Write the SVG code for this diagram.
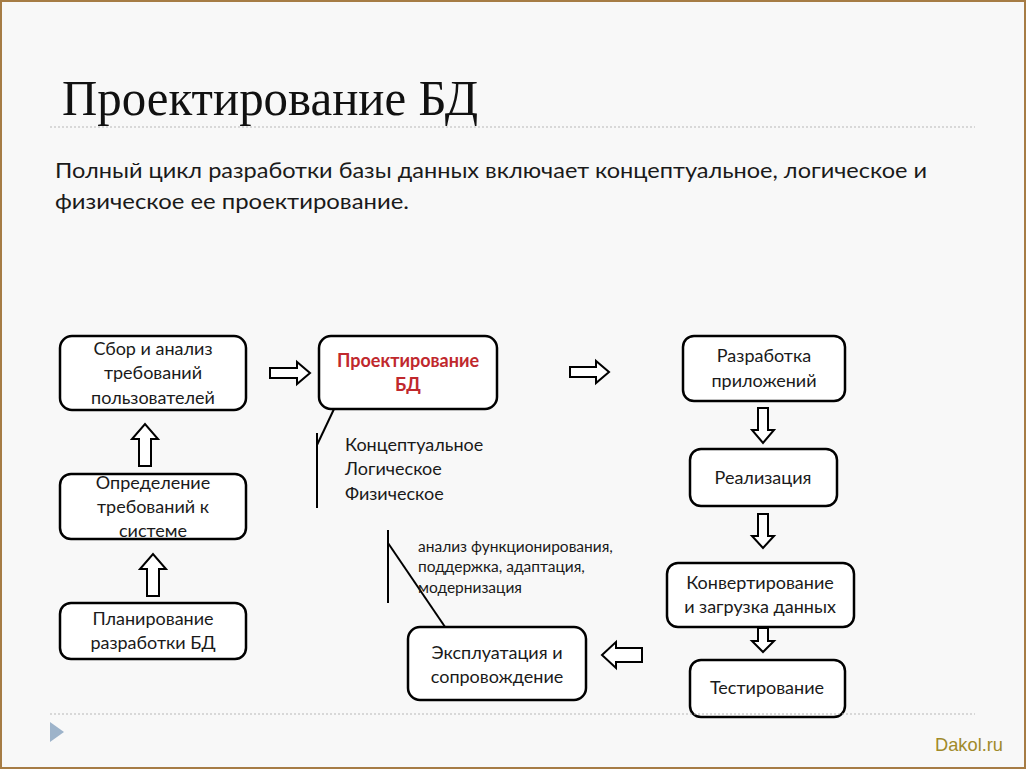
<svg xmlns="http://www.w3.org/2000/svg" width="1026" height="769" viewBox="0 0 1026 769">
<defs>
<style>
.node rect{fill:#ffffff;stroke:#000;stroke-width:2.5}
.t{font-family:Lato,"Open Sans","Noto Sans",sans-serif;font-size:18px;fill:#1a1a1a;text-anchor:middle}
.red{fill:#c0282d;font-weight:bold}
.lbl{font-family:Lato,"Open Sans","Noto Sans",sans-serif;fill:#1a1a1a}
.arr{fill:#fff;stroke:#000;stroke-width:2;stroke-linejoin:miter}
.ln{stroke:#000;stroke-width:2;fill:none}
.dot{stroke:#b8b8b8;stroke-width:1.2;stroke-dasharray:2 2}
</style>
</defs>
<rect x="0" y="0" width="1026" height="769" fill="#f8f8f8"/>
<rect x="1" y="1" width="1024" height="767" fill="none" stroke="#a67c45" stroke-width="2"/>
<text x="62" y="115" font-family="'Liberation Serif',serif" font-size="50" fill="#111" textLength="416" lengthAdjust="spacingAndGlyphs">Проектирование БД</text>
<line class="dot" x1="50" y1="127" x2="975" y2="127"/>
<text class="lbl" x="55" y="178" font-size="21" textLength="872" lengthAdjust="spacingAndGlyphs">Полный цикл разработки базы данных включает концептуальное, логическое и</text>
<text class="lbl" x="55" y="209" font-size="21" textLength="354" lengthAdjust="spacingAndGlyphs">физическое ее проектирование.</text>

<g id="connectors">
<path class="arr" d="M270,368 H297 V362 L310,373 L297,384 V378 H270 Z"/>
<path class="arr" d="M570,367 H596 V361 L609,372 L596,383 V377 H570 Z"/>
<path class="arr" d="M139,466 V439 H132 L145,424 L158,439 H151 V466 Z"/>
<path class="arr" d="M147,596 V569 H140 L153,554 L166,569 H159 V596 Z"/>
<path class="arr" d="M758,408 V430 H752 L763,443 L774,430 H768 V408 Z"/>
<path class="arr" d="M758,514 V536 H752 L763,548 L774,536 H768 V514 Z"/>
<path class="arr" d="M758,628 V641 H752 L763,652 L774,641 H768 V628 Z"/>
<path class="arr" d="M642,648 H616 V642 L602,655 L616,668 V662 H642 Z"/>
<path class="ln" d="M343,390 L317,445"/>
<path class="ln" d="M317,433 V508"/>
<path class="ln" d="M388,530 V603"/>
<path class="ln" d="M388,543 L458,646"/>
</g>

<g id="n1" class="node"><rect x="60" y="336" width="186" height="74" rx="12"/>
<text class="t" x="153" y="355">Сбор и анализ</text><text class="t" x="153" y="379">требований</text><text class="t" x="153" y="404">пользователей</text></g>
<g id="n2" class="node"><rect x="319" y="336" width="178" height="73" rx="12"/>
<text class="t red" x="408" y="367">Проектирование</text><text class="t red" x="408" y="391">БД</text></g>
<g id="n3" class="node"><rect x="683" y="336" width="162" height="65" rx="11"/>
<text class="t" x="764" y="362">Разработка</text><text class="t" x="764" y="387">приложений</text></g>
<g id="n4" class="node"><rect x="60" y="474" width="186" height="65" rx="11"/>
<text class="t" x="153" y="489">Определение</text><text class="t" x="153" y="513">требований к</text><text class="t" x="153" y="537">системе</text></g>
<g id="n5" class="node"><rect x="60" y="603" width="186" height="56" rx="11"/>
<text class="t" x="153" y="625">Планирование</text><text class="t" x="153" y="649">разработки БД</text></g>
<g id="n6" class="node"><rect x="690" y="449" width="147" height="57" rx="11"/>
<text class="t" x="763" y="484">Реализация</text></g>
<g id="n7" class="node"><rect x="667" y="563" width="187" height="64" rx="11"/>
<text class="t" x="760" y="589">Конвертирование</text><text class="t" x="760" y="613">и загрузка данных</text></g>
<g id="n8" class="node"><rect x="690" y="660" width="155" height="57" rx="11"/>
<text class="t" x="767" y="694">Тестирование</text></g>
<g id="n9" class="node"><rect x="408" y="627" width="178" height="73" rx="12"/>
<text class="t" x="497" y="659">Эксплуатация и</text><text class="t" x="497" y="683">сопровождение</text></g>

<g id="labels">
<text class="lbl" x="345" y="451" font-size="18">Концептуальное</text>
<text class="lbl" x="345" y="475" font-size="18">Логическое</text>
<text class="lbl" x="345" y="500" font-size="18">Физическое</text>
<text class="lbl" x="418" y="552" font-size="15.5">анализ функционирования,</text>
<text class="lbl" x="418" y="572" font-size="15.5">поддержка, адаптация,</text>
<text class="lbl" x="418" y="593" font-size="15.5">модернизация</text>
</g>

<line class="dot" x1="50" y1="714" x2="975" y2="714"/>
<path d="M50,722 L64,732 L50,742 Z" fill="#9db3ca"/>
<text x="935" y="751" font-family="'Liberation Sans Narrow','Liberation Sans',sans-serif" font-size="19" fill="#a08a2a" textLength="68" lengthAdjust="spacingAndGlyphs">Dakol.ru</text>
</svg>
